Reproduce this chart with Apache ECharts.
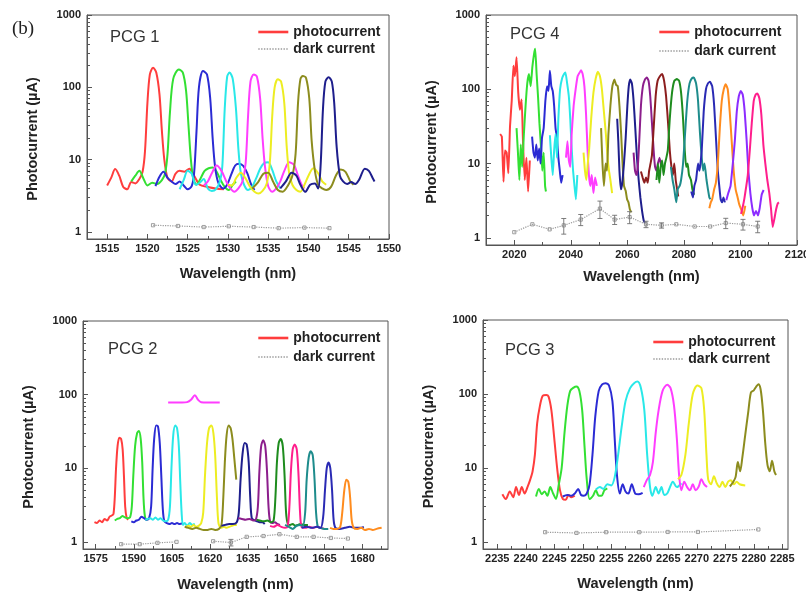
<!DOCTYPE html>
<html><head><meta charset="utf-8">
<script src="https://cdn.jsdelivr.net/npm/echarts@6/dist/echarts.min.js"></script>
<style>html,body{margin:0;padding:0;background:#fff}#c{width:806px;height:593px}</style>
</head><body><div id="c"></div>
<script>
// ---------- tick values ----------
const yMajor = [1, 10, 100, 1000];
const yMinor = [2,3,4,5,6,7,8,9,20,30,40,50,60,70,80,90,200,300,400,500,600,700,800,900];
const pcg1_xMajor = [1515,1520,1525,1530,1535,1540,1545,1550];
const pcg1_xMinor = [1517.5,1522.5,1527.5,1532.5,1537.5,1542.5,1547.5];
const pcg4_xMajor = [2020,2040,2060,2080,2100,2120];
const pcg4_xMinor = [2030,2050,2070,2090,2110];
const pcg2_xMajor = [1575,1590,1605,1620,1635,1650,1665,1680];
const pcg2_xMinor = [1582.5,1597.5,1612.5,1627.5,1642.5,1657.5,1672.5,1687.5];
const pcg3_xMajor = [2235,2240,2245,2250,2255,2260,2265,2270,2275,2280,2285];
const pcg3_xMinor = [2237.5,2242.5,2247.5,2252.5,2257.5,2262.5,2267.5,2272.5,2277.5,2282.5];

// ---------- PCG 1 ----------
const pcg1_c1 = [[1515,4.4],[1515.5,5.6],[1516,7.4],[1516.5,6.0],[1517,4.2],[1517.5,3.9],[1518,4.9],[1518.5,4.7],[1519,5.4],[1519.4,6.8],[1519.7,13],[1520,60],[1520.3,150],[1520.7,187],[1521.1,160],[1521.5,80],[1521.8,25],[1522.1,10],[1522.5,5.6],[1523,5.0],[1523.5,6.4],[1524,7.0],[1524.6,6.8],[1525.2,7.5],[1525.8,6.0],[1526.5,4.5],[1527.5,4.2],[1528.5,4.0],[1529.5,3.9]];
const pcg1_c2 = [[1518,5.0],[1518.5,6.0],[1519,7.0],[1519.5,5.5],[1520,4.4],[1520.6,4.8],[1521.2,4.6],[1521.8,5.2],[1522.2,6.5],[1522.5,12],[1522.8,45],[1523.2,130],[1523.9,177],[1524.4,160],[1524.8,90],[1525.1,30],[1525.4,10],[1525.7,5.5],[1526.1,4.5],[1526.6,5.5],[1527.1,7.0],[1527.6,7.6],[1528.1,7.8],[1528.6,6.8],[1529.1,5.2],[1529.6,4.2],[1530.1,3.8],[1530.6,4.5],[1531,5.0]];
const pcg1_c3 = [[1521,4.3],[1521.5,5.8],[1522,6.8],[1522.5,5.6],[1523,5.0],[1523.5,4.6],[1524,5.0],[1524.5,4.4],[1525,3.9],[1525.5,4.3],[1525.8,6.5],[1526.1,25],[1526.4,100],[1526.9,168],[1527.4,150],[1527.8,70],[1528.1,20],[1528.4,8],[1528.8,4.8],[1529.4,4.0],[1529.9,4.5],[1530.4,6.2],[1530.9,8.3],[1531.4,8.8],[1531.9,8.2],[1532.4,6.5],[1532.9,4.5],[1533.3,3.8]];
const pcg1_c4 = [[1524,3.9],[1524.5,5.2],[1525,7.0],[1525.5,6.4],[1526,4.5],[1526.5,4.8],[1527,5.4],[1527.5,4.0],[1528,3.7],[1528.5,3.9],[1529,5.0],[1529.3,8],[1529.6,50],[1529.9,140],[1530.2,160],[1530.6,130],[1531,50],[1531.3,14],[1531.6,6.5],[1532,4.5],[1532.5,3.8],[1533,4.2],[1533.5,5.5],[1534,7.5],[1534.5,9.0],[1535,9.2],[1535.5,7.2],[1536,5.0],[1536.5,4.0]];
const pcg1_c5 = [[1527,4.4],[1527.5,5.0],[1528,6.5],[1528.6,8.3],[1529.2,7.0],[1529.8,5.0],[1530.3,4.0],[1530.8,3.6],[1531.3,4.0],[1531.8,5.0],[1532.2,9],[1532.5,40],[1532.8,120],[1533.2,151],[1533.6,140],[1534,70],[1534.3,20],[1534.6,8],[1535,4.3],[1535.5,3.6],[1536,4.0],[1536.5,5.0],[1537,7.0],[1537.6,9.2],[1538.2,8.5],[1538.7,6.0],[1539.2,4.4],[1539.5,4.0]];
const pcg1_c6 = [[1530,4.5],[1530.5,4.4],[1531,5.5],[1531.6,6.6],[1532.2,5.5],[1532.7,4.3],[1533.3,3.6],[1533.8,3.4],[1534.3,3.7],[1534.8,4.6],[1535.2,9],[1535.5,40],[1535.8,100],[1536.2,129],[1536.6,120],[1537,60],[1537.3,15],[1537.6,6.5],[1538,4.5],[1538.5,3.8],[1539,3.6],[1539.5,4.5],[1540,6.0],[1540.6,7.6],[1541.2,6.5],[1541.7,5.0],[1542.2,4.5]];
const pcg1_c7 = [[1533,4.0],[1533.7,4.8],[1534.4,6.4],[1535,6.6],[1535.6,5.0],[1536.2,3.8],[1536.8,3.6],[1537.4,4.3],[1538,6.0],[1538.4,12],[1538.7,60],[1539,130],[1539.3,143],[1539.7,135],[1540.1,70],[1540.4,18],[1540.8,7],[1541.2,4.5],[1541.7,4.0],[1542.2,3.8],[1542.8,4.2],[1543.4,6.0],[1544,7.3],[1544.6,6.8],[1545.2,5.0],[1545.6,4.5]];
const pcg1_c8 = [[1536.5,4.0],[1537.2,5.0],[1537.9,6.6],[1538.5,6.0],[1539,4.5],[1539.6,3.6],[1540.2,4.5],[1540.8,4.7],[1541.2,4.0],[1541.5,8],[1541.8,50],[1542.1,120],[1542.5,138],[1542.9,120],[1543.2,60],[1543.5,15],[1543.9,6.0],[1544.3,5.0],[1544.8,4.6],[1545.3,4.9],[1545.8,4.6],[1546.3,5.3],[1547,7.5],[1547.5,7.0],[1548,5.5],[1548.2,5.0]];
const pcg1_dark_x = [1520.7,1523.8,1527,1530.1,1533.2,1536.3,1539.5,1542.6];
const pcg1_dark_y = [1.24,1.21,1.17,1.2,1.17,1.13,1.15,1.13];
const pcg1_dark_err = [0.1,0.06,0.05,0.06,0.08,0.05,0.05,0.05];

// ---------- PCG 4 ----------
const pcg4_c1 = [[2015,25],[2015.6,23],[2016.2,5.7],[2016.7,15],[2017.3,14],[2017.9,7.4],[2018.5,32],[2019.1,70],[2019.7,207],[2020.2,150],[2020.8,270],[2021.4,90],[2022,53],[2022.6,73],[2023.1,19],[2023.7,6],[2024.3,12],[2024.9,4.2],[2025.5,11]];
const pcg4_c2 = [[2020.8,30],[2021.3,14],[2021.8,6],[2022.3,18],[2022.8,9],[2023.4,25],[2024,60],[2024.6,120],[2025.2,160],[2025.8,110],[2026.4,200],[2027,300],[2027.4,350],[2027.9,160],[2028.4,80],[2028.9,35],[2029.4,18],[2029.9,8],[2030.4,14],[2030.9,5],[2031.2,4.2]];
const pcg4_c3 = [[2026.3,23],[2026.8,14],[2027.3,12],[2027.8,18],[2028.3,11],[2028.8,16],[2029.3,10],[2029.8,22],[2030.4,30],[2031,70],[2031.6,110],[2032.1,95],[2032.6,177],[2033.1,110],[2033.6,95],[2034.1,60],[2034.6,30],[2035.1,22],[2035.6,12],[2036.1,8],[2036.6,5.5],[2037.1,7]];
const pcg4_c4 = [[2032.6,24],[2033.1,12],[2033.6,7],[2034.1,15],[2034.6,25],[2035.1,12],[2035.6,40],[2036.2,100],[2036.9,140],[2037.6,160],[2038.1,168],[2038.7,120],[2039.3,80],[2039.8,40],[2040.3,16],[2040.8,8],[2041.3,5],[2041.8,3.3],[2042.3,7]];
const pcg4_c5 = [[2038.3,12],[2038.8,20],[2039.3,11],[2039.8,9],[2040.3,25],[2041,60],[2041.7,100],[2042.4,150],[2043,165],[2043.6,180],[2044.2,160],[2044.8,110],[2045.4,45],[2045.9,16],[2046.4,7],[2046.9,5],[2047.4,7],[2048,4],[2048.6,6.5],[2049.2,5]];
const pcg4_c6 = [[2044.5,14],[2045,8],[2045.5,6],[2046,10],[2046.5,16],[2047.2,40],[2048,90],[2048.8,140],[2049.6,172],[2050.3,150],[2051,100],[2051.7,50],[2052.4,25],[2053,12],[2053.5,8],[2054,6],[2054.6,4]];
const pcg4_c7 = [[2050.7,30],[2051.2,10],[2051.7,5],[2052.3,10],[2052.8,8],[2053.3,25],[2054,60],[2054.7,110],[2055.4,135],[2056,115],[2056.6,110],[2057.2,60],[2057.8,25],[2058.3,10],[2058.8,5],[2059.4,4.3],[2059.9,3.3],[2060.4,3.0],[2060.9,2.4],[2061.4,2.2]];
const pcg4_c8 = [[2056.4,40],[2056.8,20],[2057.2,8],[2057.7,4.5],[2058.2,5.5],[2058.8,10],[2059.4,22],[2060,60],[2060.5,110],[2061,135],[2061.6,120],[2062.2,70],[2062.8,30],[2063.4,12],[2064,6],[2064.6,3.5],[2065.2,2.3],[2065.8,1.7],[2066.2,1.6]];
const pcg4_c9 = [[2062.2,14],[2062.7,8],[2063.2,7],[2063.7,9],[2064.2,20],[2064.8,60],[2065.5,110],[2066.2,135],[2066.9,144],[2067.5,130],[2068.1,80],[2068.7,35],[2069.3,15],[2069.8,9],[2070.3,8],[2070.8,10],[2071.4,12],[2072,9]];
const pcg4_c10 = [[2064.8,7.8],[2065.4,6.5],[2066,5.5],[2066.6,6.5],[2067.2,5.5],[2067.7,8],[2068.2,10],[2068.7,13],[2069.3,30],[2070,80],[2070.7,130],[2071.5,150],[2072.3,160],[2073,130],[2073.7,80],[2074.4,35],[2075,15],[2075.6,9],[2076.1,7],[2076.6,10],[2077.1,6],[2077.6,4.5],[2078,3.6]];
const pcg4_c11 = [[2070.3,6],[2070.8,10],[2071.3,5.5],[2071.8,9],[2072.3,11],[2072.8,7],[2073.3,10],[2073.8,12],[2074.3,15],[2075,40],[2075.8,90],[2076.6,130],[2077.5,137],[2078.3,130],[2079,90],[2079.7,40],[2080.3,15],[2080.8,9],[2081.3,10],[2081.8,7],[2082.5,6],[2083,4.5],[2083.6,3.8]];
const pcg4_c12 = [[2075.4,9],[2076,6],[2076.6,4.5],[2077.3,3.0],[2077.8,4.5],[2078.5,5],[2079,6],[2079.7,10],[2080.4,25],[2081.2,70],[2082,120],[2082.8,140],[2083.5,144],[2084.3,120],[2085,70],[2085.7,25],[2086.3,12],[2086.8,8],[2087.3,10],[2088,6],[2088.5,4.5],[2089,3.5],[2089.4,3.3]];
const pcg4_c13 = [[2082.6,4.2],[2083.2,3.5],[2083.7,5],[2084.3,6],[2085,10],[2085.5,8],[2086.3,15],[2087,50],[2087.8,100],[2088.5,120],[2089.2,126],[2090,110],[2090.7,60],[2091.4,20],[2092,8],[2092.5,5],[2093,3.3],[2093.5,3.0],[2094,3.5],[2094.5,3.0]];
const pcg4_c14 = [[2089,2.5],[2089.5,3],[2090,3.3],[2090.7,4.5],[2091.3,5.5],[2092,10],[2092.7,30],[2093.4,70],[2094.1,100],[2094.8,117],[2095.5,100],[2096.2,50],[2096.9,20],[2097.6,8],[2098.3,4.5],[2099,3.5],[2099.6,2.8],[2100.3,2.4],[2101,2.0],[2101.7,2.7]];
const pcg4_c15 = [[2095,3.2],[2095.7,4.0],[2096.5,5],[2097.3,10],[2098,20],[2098.7,50],[2099.4,80],[2100.1,95],[2100.8,85],[2101.5,50],[2102.2,20],[2102.8,8],[2103.5,4],[2104.2,2.5],[2104.8,2.0],[2105.5,2.3],[2106.2,2.0],[2106.8,2.5],[2107.5,3.8],[2108.2,4.4]];
const pcg4_c16 = [[2100.2,2.1],[2100.8,2.6],[2101.4,3.4],[2102,4.8],[2102.6,7],[2103.3,15],[2104,35],[2104.7,70],[2105.4,85],[2106,88],[2106.7,75],[2107.4,45],[2108.1,18],[2108.8,10],[2109.5,6],[2110.2,4],[2110.8,2.5],[2111.4,1.4],[2112,1.8],[2112.6,2.4],[2113.2,2.9],[2113.6,3.0]];
const pcg4_dark_x = [2020,2026.4,2032.5,2037.5,2043.5,2050.3,2055.5,2060.8,2066.6,2072.1,2077.3,2083.8,2089.3,2094.8,2100.9,2106.1];
const pcg4_dark_y = [1.19,1.52,1.3,1.47,1.76,2.47,1.76,1.9,1.52,1.47,1.52,1.42,1.42,1.58,1.52,1.42];
const pcg4_dark_err = [0.05,0.08,0.1,0.35,0.3,0.65,0.25,0.35,0.15,0.12,0.12,0.08,0.1,0.25,0.25,0.25];

// ---------- PCG 2 ----------
const pcg2_c1 = [[1574.5,1.85],[1575.5,1.8],[1576.5,1.95],[1577.5,1.85],[1578.5,2.05],[1579.5,1.95],[1580.5,2.2],[1581.5,2.3],[1582,2.4],[1582.5,4],[1583,10],[1583.6,20],[1584.3,26],[1585,25],[1585.6,18],[1586.1,8],[1586.6,3],[1587.2,2.1],[1587.8,2.0]];
const pcg2_c2 = [[1582.5,1.95],[1583.5,2.05],[1584.5,2.1],[1585.5,2.25],[1586.5,2.15],[1587.5,2.1],[1588.5,2.15],[1589.2,3],[1589.8,8],[1590.5,20],[1591.3,30],[1592,32],[1592.7,25],[1593.3,12],[1593.8,4],[1594.3,2.3],[1595,2.0],[1596,2.1]];
const pcg2_c3 = [[1589,1.9],[1590,1.85],[1591,1.95],[1592,2.0],[1593,2.2],[1594,2.1],[1595,2.0],[1596,2.1],[1596.8,3],[1597.4,10],[1598,25],[1598.8,38],[1599.5,37],[1600.2,22],[1600.8,8],[1601.4,2.8],[1602,1.9],[1603,1.8],[1604,1.75],[1605,1.8],[1606,1.75],[1607,1.8],[1608,1.75],[1609.3,1.8]];
const pcg2_c4 = [[1594.5,2.0],[1595.5,2.05],[1596.5,2.1],[1597.5,2.0],[1598.5,2.15],[1599.5,2.0],[1600.5,2.1],[1601.5,1.95],[1602.5,1.9],[1603.5,2.0],[1604.2,3],[1604.8,10],[1605.5,28],[1606.3,38],[1607,35],[1607.7,20],[1608.3,6],[1608.8,2.5],[1609.3,1.7],[1610,1.8],[1611,1.65],[1612,1.8],[1613,1.7],[1614,1.75]];
const pcg2_c5 = [[1603.5,78],[1606,78],[1609,78],[1611,79],[1612.5,85],[1614,98],[1615.3,85],[1616.5,79],[1619,78],[1623.8,78]];
const pcg2_c6 = [[1610.5,1.6],[1611.5,1.65],[1612.5,1.6],[1613.5,1.7],[1614.5,1.6],[1615.5,1.65],[1616.5,1.8],[1617.3,2.5],[1618,8],[1618.8,22],[1619.6,35],[1620.5,38],[1621.3,30],[1622,15],[1622.7,4],[1623.3,1.8],[1624.3,1.55],[1625.5,1.6],[1626.5,1.55],[1627.5,1.6],[1628.5,1.65],[1629.5,1.7],[1630.5,1.7]];
const pcg2_c7 = [[1610,1.6],[1611.5,1.55],[1613,1.5],[1614.5,1.55],[1616,1.5],[1617.5,1.45],[1619,1.45],[1620.5,1.5],[1622,1.45],[1623.5,1.5],[1624.5,1.7],[1625.2,4],[1625.8,12],[1626.5,28],[1627.3,38],[1628.1,35],[1628.8,25],[1629.5,14],[1630.3,7]];
const pcg2_c8 = [[1624.5,1.65],[1626,1.7],[1627.5,1.75],[1629,1.75],[1630.5,1.85],[1631.3,2.5],[1632,7],[1632.8,16],[1633.6,22],[1634.4,21],[1635.2,12],[1635.8,4],[1636.4,2.1],[1637.5,1.95],[1638.5,1.9],[1639.5,1.85],[1640.5,1.85],[1641.5,1.75]];
const pcg2_c9 = [[1631,2.1],[1632.5,2.05],[1634,2.0],[1635.5,2.05],[1637,1.95],[1638,2.0],[1638.8,3],[1639.4,9],[1640.1,20],[1640.9,24],[1641.7,20],[1642.4,9],[1643,3],[1643.6,1.9],[1644.5,1.8],[1645.5,1.85],[1646.5,1.75],[1647.5,1.7]];
const pcg2_c10 = [[1638.3,2.0],[1639.5,1.95],[1641,1.9],[1642.5,1.95],[1644,1.85],[1645,1.95],[1645.7,4],[1646.3,12],[1647,22],[1647.8,25],[1648.6,20],[1649.3,8],[1649.9,2.5],[1650.6,1.75],[1651.5,1.7],[1652.5,1.75],[1653.5,1.65],[1654.5,1.7],[1655.5,1.75],[1657,1.7],[1658.5,1.7]];
const pcg2_c11 = [[1643.6,1.65],[1645,1.6],[1646.5,1.7],[1648,1.6],[1649.5,1.55],[1650.5,1.6],[1651.2,3],[1651.8,9],[1652.5,18],[1653.3,21],[1654.1,18],[1654.8,8],[1655.4,2.5],[1656,1.6],[1657.5,1.55],[1659,1.6],[1660.5,1.55],[1662,1.6],[1663.5,1.55],[1665,1.5]];
const pcg2_c12 = [[1649.5,1.7],[1651,1.6],[1652.5,1.5],[1654,1.65],[1655.5,1.7],[1656.5,1.65],[1657.4,2.5],[1658,7],[1658.8,14],[1659.6,17],[1660.4,15],[1661.1,7],[1661.7,2.5],[1662.4,1.6],[1663.5,1.55],[1665,1.5],[1666.5,1.5]];
const pcg2_c13 = [[1656,1.55],[1658,1.6],[1660,1.55],[1662,1.6],[1663.5,1.55],[1664.5,2.2],[1665.2,5],[1665.9,10],[1666.6,12],[1667.3,10],[1668,5],[1668.6,2],[1669.3,1.55],[1671,1.5],[1673,1.55],[1675,1.6],[1677,1.55],[1679,1.55],[1680.5,1.6]];
const pcg2_c14 = [[1667.2,1.55],[1668.5,1.5],[1670,1.5],[1671.2,1.6],[1672,2.5],[1672.8,5],[1673.6,7],[1674.4,6.5],[1675.1,4],[1675.7,2],[1676.5,1.55],[1678,1.5],[1679.5,1.55],[1681,1.45],[1682.5,1.5],[1684,1.45],[1685.5,1.5],[1687.5,1.55]];
const pcg2_dark_x = [1585,1592.3,1599.3,1606.8,1614,1621.2,1628.2,1634.4,1641,1647.3,1654.1,1660.7,1667.5,1674.2];
const pcg2_dark_y = [0.93,0.93,0.97,1.0,null,1.02,0.98,1.17,1.2,1.27,1.17,1.17,1.13,1.11];
const pcg2_dark_err = [0.04,0.04,0.05,0.08,null,0.08,0.1,0.02,0.02,0.02,0.02,0.02,0.02,0.01];

// ---------- PCG 3 ----------
const pcg3_c1 = [[2235.9,4.4],[2236.5,3.8],[2237.2,4.8],[2237.8,4.0],[2238.3,5.5],[2238.8,4.3],[2239.3,5.5],[2239.8,4.5],[2240.3,5.5],[2240.8,7],[2241.2,9],[2241.6,15],[2242,40],[2242.5,70],[2243,95],[2243.6,97],[2244,92],[2244.5,60],[2245,25],[2245.5,10],[2246,5],[2246.5,3.8],[2247,3.7],[2247.5,4.3],[2248,4.0],[2248.6,4.2]];
const pcg3_c2 = [[2241.8,4.1],[2242.3,5.2],[2242.8,4.4],[2243.3,4.8],[2243.8,4.2],[2244.3,5.5],[2244.8,4.5],[2245.3,3.8],[2245.8,6],[2246.3,10],[2246.8,30],[2247.3,70],[2247.8,110],[2248.4,122],[2248.9,126],[2249.4,110],[2249.9,60],[2250.3,20],[2250.7,7],[2251.2,3.8],[2251.8,4.2],[2252.3,5],[2252.8,4.2],[2253.3,4.2],[2253.8,5],[2254.3,5.3]];
const pcg3_c3 = [[2246.5,4.1],[2247.3,4.3],[2248,4.2],[2248.6,4.5],[2249.2,5.2],[2249.7,4.3],[2250.2,4.2],[2250.7,4.5],[2251.2,6],[2251.7,15],[2252.2,50],[2252.8,110],[2253.4,135],[2254,140],[2254.6,130],[2255.2,80],[2255.6,25],[2256,8],[2256.5,4.5],[2257,6],[2257.5,4.8],[2258,4.5],[2258.6,6],[2259.2,4.5],[2259.8,4.4],[2260.5,4.6]];
const pcg3_c4 = [[2252.3,5.1],[2253,5.5],[2253.6,5.2],[2254.3,6],[2255,5.8],[2255.6,7.5],[2256.2,15],[2256.8,35],[2257.5,80],[2258.3,120],[2259,140],[2259.6,147],[2260.2,120],[2260.8,60],[2261.3,15],[2261.8,5.5],[2262.2,4.2],[2262.8,5.5],[2263.3,4.5],[2263.8,5.5],[2264.3,4.3],[2264.8,4.5],[2265.3,5.5],[2265.8,6.5],[2266.5,5.5],[2267.3,6.2]];
const pcg3_c5 = [[2260.7,5.5],[2261.3,7],[2261.8,8],[2262.3,12],[2262.8,30],[2263.3,60],[2264,110],[2264.8,133],[2265.4,120],[2266,70],[2266.5,25],[2266.9,8],[2267.3,5],[2267.8,6.5],[2268.3,5.5],[2268.8,5],[2269.3,6],[2269.8,5],[2270.3,5.5],[2270.8,7],[2271.3,6],[2271.8,5.5]];
const pcg3_c6 = [[2266.7,7],[2267.3,8],[2268,15],[2268.6,40],[2269.3,100],[2270.1,130],[2270.8,120],[2271.3,60],[2271.7,15],[2272,7],[2272.5,6],[2273,7.7],[2273.5,6.2],[2274,5.5],[2274.5,6.5],[2275,5.5],[2275.5,6.5],[2276,6.8],[2276.5,6],[2277,6.5],[2277.5,6],[2278.5,5.8]];
const pcg3_c7 = [[2275.8,5.6],[2276.3,6.3],[2276.8,7.5],[2277.2,12],[2277.6,9],[2278,14],[2278.5,28],[2279,55],[2279.5,105],[2280,112],[2280.4,125],[2280.8,135],[2281.2,115],[2281.6,60],[2282,22],[2282.4,11],[2282.8,9],[2283.2,12.5],[2283.6,9],[2283.9,8]];
const pcg3_dark_x = [2243.4,2248.9,2254.1,2259.9,2264.9,2270.2,2280.8];
const pcg3_dark_y = [1.35,1.32,1.35,1.35,1.36,1.36,1.47];
const pcg3_dark_err = [0.08,0.02,0.02,0.07,0.1,0.08,0.1];

// ---------- colours (Origin palette, as rendered) ----------
const C = {red:'#ff3d3d',green:'#33e033',blue:'#2b2bd4',cyan:'#29e8e8',magenta:'#ff3dff',yellow:'#eded22',dkyellow:'#8c8c1e',navy:'#1e1e8c',purple:'#8c1e8c',wine:'#8c1e1e',olive:'#1e8c1e',dkcyan:'#1e8c8c',royal:'#2a2ab4',orange:'#ff8c1e',violet:'#8c2cff',pink:'#ff1e8c'};

const FONT = 'Liberation Sans, Arial, sans-serif';
const panels = [
  {title:'PCG 1', grid:{left:87,top:15,width:302,height:224}, xmin:1512.5, xmax:1550, xMajor:pcg1_xMajor, xMinor:pcg1_xMinor,
   chans:[pcg1_c1,pcg1_c2,pcg1_c3,pcg1_c4,pcg1_c5,pcg1_c6,pcg1_c7,pcg1_c8],
   cols:[C.red,C.green,C.blue,C.cyan,C.magenta,C.yellow,C.dkyellow,C.navy],
   dark:[pcg1_dark_x,pcg1_dark_y,pcg1_dark_err], tpos:[110,29], lpos:[257,25], lgap:3, xgap:27, smooth:0.3},
  {title:'PCG 4', grid:{left:486,top:15,width:311,height:230}, xmin:2010, xmax:2120, xMajor:pcg4_xMajor, xMinor:pcg4_xMinor,
   chans:[pcg4_c1,pcg4_c2,pcg4_c3,pcg4_c4,pcg4_c5,pcg4_c6,pcg4_c7,pcg4_c8,pcg4_c9,pcg4_c10,pcg4_c11,pcg4_c12,pcg4_c13,pcg4_c14,pcg4_c15,pcg4_c16],
   cols:[C.red,C.green,C.blue,C.cyan,C.magenta,C.yellow,C.dkyellow,C.navy,C.purple,C.wine,C.olive,C.dkcyan,C.royal,C.orange,C.violet,C.pink],
   dark:[pcg4_dark_x,pcg4_dark_y,pcg4_dark_err], tpos:[510,26], lpos:[658,25], lgap:5, xgap:24, smooth:0.15},
  {title:'PCG 2', grid:{left:83,top:321,width:305,height:228}, xmin:1570, xmax:1690, xMajor:pcg2_xMajor, xMinor:pcg2_xMinor,
   chans:[pcg2_c1,pcg2_c2,pcg2_c3,pcg2_c4,pcg2_c5,pcg2_c6,pcg2_c7,pcg2_c8,pcg2_c9,pcg2_c10,pcg2_c11,pcg2_c12,pcg2_c13,pcg2_c14],
   cols:[C.red,C.green,C.blue,C.cyan,C.magenta,C.yellow,C.dkyellow,C.navy,C.purple,C.olive,C.pink,C.dkcyan,C.royal,C.orange],
   dark:[pcg2_dark_x,pcg2_dark_y,pcg2_dark_err], tpos:[108,341], lpos:[257,331], lgap:5, xgap:28, smooth:0.3},
  {title:'PCG 3', grid:{left:483,top:320,width:305,height:229}, xmin:2232.5, xmax:2286, xMajor:pcg3_xMajor, xMinor:pcg3_xMinor,
   chans:[pcg3_c1,pcg3_c2,pcg3_c3,pcg3_c4,pcg3_c5,pcg3_c6,pcg3_c7],
   cols:[C.red,C.green,C.blue,C.cyan,C.magenta,C.yellow,C.dkyellow],
   dark:[pcg3_dark_x,pcg3_dark_y,pcg3_dark_err], tpos:[505,342], lpos:[652,335], lgap:3, xgap:27, smooth:0.3}
];

const AX = '#555';
const plain = v => String(v);
const option = {animation:false, backgroundColor:'#fff', grid:[], xAxis:[], yAxis:[], series:[], legend:[],
  title:[{text:'(b)', left:12, top:20, padding:0, textStyle:{fontFamily:'Liberation Serif, DejaVu Serif, serif', fontSize:19, fontWeight:'normal', color:'#222'}}]};

function errRender(params, api){
  const x = api.value(0), y = api.value(1), e = api.value(2);
  const c = api.coord([x, y]);
  const lo = api.coord([x, y - e]), hi = api.coord([x, y + e]);
  const st = {stroke:'#6f6f6f', lineWidth:0.9};
  const ch = [{type:'rect', shape:{x:c[0]-1.6,y:c[1]-1.6,width:3.2,height:3.2}, style:{fill:'none',stroke:'#888',lineWidth:0.8}}];
  if (hi[1] < c[1]-2.5) {
    ch.push({type:'line', shape:{x1:lo[0],y1:lo[1],x2:hi[0],y2:hi[1]}, style:st});
    ch.push({type:'line', shape:{x1:lo[0]-2.5,y1:lo[1],x2:lo[0]+2.5,y2:lo[1]}, style:st});
    ch.push({type:'line', shape:{x1:hi[0]-2.5,y1:hi[1],x2:hi[0]+2.5,y2:hi[1]}, style:st});
  }
  return {type:'group', children:ch};
}

const hiddenSym = {color:'rgba(0,0,0,0)', borderColor:'rgba(0,0,0,0)', borderWidth:0, opacity:0};

panels.forEach((p, i) => {
  option.grid.push(Object.assign({show:true, borderColor:AX, borderWidth:1, backgroundColor:'transparent', outerBoundsMode:'none'}, p.grid));
  const xi = option.xAxis.length, yi = option.yAxis.length;
  option.xAxis.push({type:'value', gridIndex:i, min:p.xmin, max:p.xmax, position:'bottom',
    axisLine:{show:true, onZero:false, lineStyle:{color:AX, width:1}},
    axisTick:{show:true, inside:true, length:5, customValues:p.xMajor, lineStyle:{color:AX}},
    axisLabel:{show:true, customValues:p.xMajor, formatter:plain, margin:4, fontFamily:FONT, fontSize:11, fontWeight:'bold', color:'#222'},
    splitLine:{show:false},
    name:'Wavelength (nm)', nameLocation:'middle', nameGap:p.xgap,
    nameTextStyle:{fontFamily:FONT, fontSize:14.5, fontWeight:'bold', color:'#222'}});
  option.xAxis.push({type:'value', gridIndex:i, min:p.xmin, max:p.xmax, position:'bottom',
    axisLine:{show:false}, axisLabel:{show:false}, splitLine:{show:false},
    axisTick:{show:true, inside:true, length:3, customValues:p.xMinor, lineStyle:{color:AX}}});
  option.yAxis.push({type:'log', logBase:10, gridIndex:i, min:0.8, max:1000, position:'left',
    axisLine:{show:true, lineStyle:{color:AX, width:1}},
    axisTick:{show:true, inside:true, length:5, customValues:yMajor, lineStyle:{color:AX}},
    axisLabel:{show:true, customValues:yMajor, formatter:plain, margin:6, fontFamily:FONT, fontSize:11, fontWeight:'bold', color:'#222'},
    splitLine:{show:false},
    name:'Photocurrent (\u00b5A)', nameLocation:'middle', nameGap:47,
    nameTextStyle:{fontFamily:FONT, fontSize:14.5, fontWeight:'bold', color:'#222', padding:[0,24,0,0]}});
  option.yAxis.push({type:'log', logBase:10, gridIndex:i, min:0.8, max:1000, position:'left', offset:0,
    axisLine:{show:false}, axisLabel:{show:false}, splitLine:{show:false},
    axisTick:{show:true, inside:true, length:3, customValues:yMinor, lineStyle:{color:AX}}});

  p.chans.forEach((d, k) => {
    option.series.push({type:'line', name: k === 0 ? 'photocurrent' : (p.title + ' ch' + (k+1)),
      xAxisIndex:xi, yAxisIndex:yi, data:d, symbol:'none', showSymbol:false, smooth:p.smooth,
      lineStyle:{color:p.cols[k], width:2}, itemStyle:{color:p.cols[k]}, z:2});
  });
  const dx = p.dark[0], dy = p.dark[1], de = p.dark[2];
  const darkLine = dx.map((x, k) => [x, dy[k] === null ? '-' : dy[k]]);
  option.series.push({type:'line', name:'dark current', xAxisIndex:xi, yAxisIndex:yi, data:darkLine,
    symbol:'none', showSymbol:false, connectNulls:false,
    lineStyle:{color:'#9a9a9a', width:1.2, type:'dotted'}, itemStyle:{color:'#9a9a9a'}, z:3});
  const errData = [];
  dx.forEach((x, k) => { if (dy[k] !== null) errData.push([x, dy[k], de[k]]); });
  option.series.push({type:'custom', name:'dark err ' + i, xAxisIndex:xi, yAxisIndex:yi, data:errData,
    renderItem:errRender, z:4, encode:{x:0, y:1}});

  option.legend.push({show:true, orient:'vertical', left:p.lpos[0], top:p.lpos[1], padding:0,
    itemWidth:30, itemHeight:14, itemGap:p.lgap, selectedMode:false, itemStyle:hiddenSym,
    textStyle:{fontFamily:FONT, fontSize:14, fontWeight:'bold', color:'#222'},
    data:[{name:'photocurrent', lineStyle:{width:2.6}, itemStyle:hiddenSym}, {name:'dark current', lineStyle:{width:1.4}, itemStyle:hiddenSym}]});
  option.title.push({text:p.title, left:p.tpos[0], top:p.tpos[1], padding:0,
    textStyle:{fontFamily:FONT, fontSize:16.5, fontWeight:'normal', color:'#333'}});
});

const chart = echarts.init(document.getElementById('c'), null, {renderer:'canvas', width:806, height:593});
chart.setOption(option);
</script></body></html>
